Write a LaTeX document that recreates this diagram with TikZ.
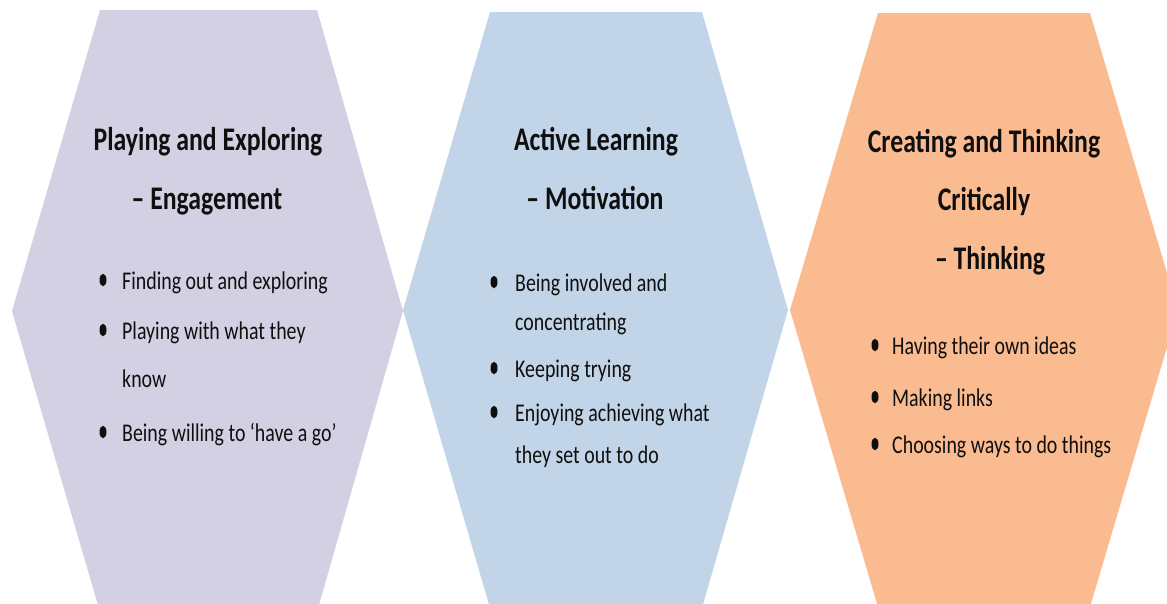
\documentclass[tikz,border=0pt]{standalone}
\usepackage{fontspec}
\setmainfont{Carlito}
\newfontfamily\titlefont[FakeStretch=0.78]{Carlito}
\newfontfamily\bodyfont[FakeStretch=0.78]{Carlito}
\usetikzlibrary{shapes.geometric}
\definecolor{hexpurple}{RGB}{212,208,228}
\definecolor{hexblue}{RGB}{194,213,232}
\definecolor{hexorange}{RGB}{250,187,144}
\definecolor{ink}{RGB}{15,15,15}
\tikzset{
  titletext/.style={inner sep=0pt, anchor=base, text=ink, font=\titlefont\bfseries\fontsize{33}{36}\selectfont},
  itemtext/.style={inner sep=0pt, anchor=base west, text=ink, font=\bodyfont\fontsize{25.5}{28}\selectfont},
  dot/.style={ellipse, fill=ink, inner sep=0pt, minimum width=7pt, minimum height=12.5pt}
}
\begin{document}
\begin{tikzpicture}[x=1pt,y=-1pt]
\useasboundingbox (0,0) rectangle (1167,603);
\begin{scope}
\clip (0,0) rectangle (1167,603);
\fill[hexpurple] (100,10) -- (317,10) -- (403,311) -- (317,612) -- (100,612) -- (12,311) -- cycle;
\fill[hexblue] (490,12) -- (702,12) -- (788,310) -- (702,608) -- (490,608) -- (403,310) -- cycle;
\fill[hexorange] (878,13) -- (1090,13) -- (1178,310) -- (1090,607) -- (878,607) -- (790,310) -- cycle;
\end{scope}
% Hexagon 1
\node[titletext] (t1a) at (208,150) {Playing and Exploring};
\node[titletext] (t1b) at (207,209) {– Engagement};
\node[dot] (d1a) at (103,280) {};
\node[itemtext] (i1a) at (122,289) {Finding out and exploring};
\node[dot] (d1b) at (103,330) {};
\node[itemtext] (i1b) at (122,339) {Playing with what they};
\node[itemtext] (i1c) at (122,387) {know};
\node[dot] (d1c) at (103,432) {};
\node[itemtext] (i1d) at (122,441) {Being willing to ‘have a go’};
% Hexagon 2
\node[titletext] (t2a) at (596,150) {Active Learning};
\node[titletext] (t2b) at (595,209) {– Motivation};
\node[dot] (d2a) at (494,282) {};
\node[itemtext] (i2a) at (515,291) {Being involved and};
\node[itemtext] (i2b) at (515,330) {concentrating};
\node[dot] (d2b) at (494,368) {};
\node[itemtext] (i2c) at (515,377) {Keeping trying};
\node[dot] (d2c) at (494,412) {};
\node[itemtext] (i2d) at (515,421) {Enjoying achieving what};
\node[itemtext] (i2e) at (515,463) {they set out to do};
% Hexagon 3
\node[titletext] (t3a) at (984,152) {Creating and Thinking};
\node[titletext] (t3b) at (984,210) {Critically};
\node[titletext] (t3c) at (990,269) {– Thinking};
\node[dot] (d3a) at (875,345) {};
\node[itemtext] (i3a) at (892,354) {Having their own ideas};
\node[dot] (d3b) at (875,397) {};
\node[itemtext] (i3b) at (892,406) {Making links};
\node[dot] (d3c) at (875,444) {};
\node[itemtext] (i3c) at (892,453) {Choosing ways to do things};
\end{tikzpicture}
\end{document}
